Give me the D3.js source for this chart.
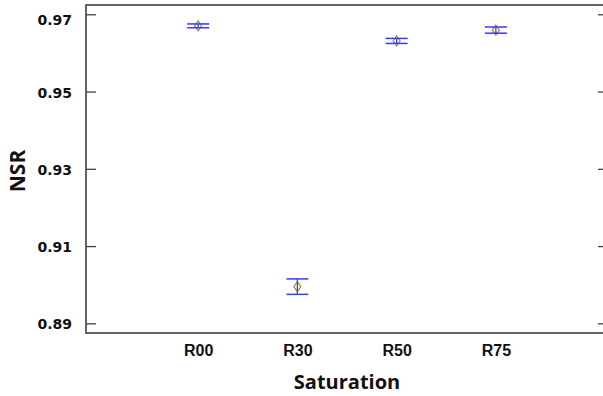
<!DOCTYPE html>
<html>
<head>
<meta charset="utf-8">
<script src="https://cdn.jsdelivr.net/npm/d3@7"></script>
<style>
  body { margin: 0; background: #fff; }
</style>
</head>
<body>
<div id="chart"></div>
<script>
// data
var categories = ["R00", "R30", "R50", "R75"];
var nsrMean = [0.9670, 0.8995, 0.9631, 0.9659];
var nsrErr = [0.0005, 0.0020, 0.00065, 0.0008];
var yTicks = [0.89, 0.91, 0.93, 0.95, 0.97];

var svgWidth = 603;
var svgHeight = 396;

// plot box (right edge runs past the window, like the original)
var margin = { top: 5, left: 86 };
var plotWidth = 522;
var plotHeight = 328;

var svg = d3.select("#chart")
  .append("svg")
  .attr("width", svgWidth)
  .attr("height", svgHeight);

var chartGroup = svg.append("g")
  .attr("transform", `translate(${margin.left}, ${margin.top})`);

var xScale = d3.scalePoint()
  .domain(categories)
  .range([0, plotWidth])
  .padding(1.13);

var yScale = d3.scaleLinear()
  .domain([0.8875, 0.9724])
  .range([plotHeight, 0]);

var axisColor = "#404040";

// frame
chartGroup.append("rect")
  .attr("width", plotWidth)
  .attr("height", plotHeight)
  .attr("fill", "none")
  .attr("stroke", axisColor)
  .attr("stroke-width", 1.6);

// left axis: inward ticks
var yAxis = d3.axisLeft(yScale)
  .tickValues(yTicks)
  .tickSize(-10)
  .tickPadding(14)
  .tickFormat(d3.format(".2f"));

var yAxisG = chartGroup.append("g").call(yAxis);
yAxisG.select(".domain").remove();
yAxisG.selectAll("line").attr("stroke", axisColor).attr("stroke-width", 1.3);
yAxisG.selectAll("text")
  .attr("fill", "#111")
  .style("font-family", "DejaVu Sans, sans-serif")
  .style("font-weight", "bold")
  .style("font-size", "14px")
  .attr("dy", d => d == 0.97 ? "0.7em" : "0.4em");

// right axis: inward ticks, no labels
var yAxisRight = d3.axisRight(yScale)
  .tickValues(yTicks)
  .tickSize(-10)
  .tickFormat("");

var yRightG = chartGroup.append("g")
  .attr("transform", `translate(${plotWidth},0)`)
  .call(yAxisRight);
yRightG.select(".domain").remove();
yRightG.selectAll("line").attr("stroke", axisColor).attr("stroke-width", 1.3);

// bottom axis: labels only
var xAxis = d3.axisBottom(xScale)
  .tickSize(0)
  .tickPadding(12);

var xAxisG = chartGroup.append("g")
  .attr("transform", `translate(0,${plotHeight})`)
  .call(xAxis);
xAxisG.select(".domain").remove();
xAxisG.selectAll("text")
  .attr("fill", "#111")
  .style("font-family", "Liberation Sans, Arial, sans-serif")
  .style("font-weight", "bold")
  .style("font-size", "16px");

// axis titles
chartGroup.append("text")
  .attr("x", plotWidth / 2)
  .attr("y", plotHeight + 56)
  .attr("text-anchor", "middle")
  .attr("fill", "#111")
  .style("font-family", "Open Sans, sans-serif")
  .style("font-weight", "bold")
  .style("font-size", "20px")
  .text("Saturation");

svg.append("text")
  .attr("transform", `translate(25, ${margin.top + plotHeight / 2 + 2}) rotate(-90)`)
  .attr("text-anchor", "middle")
  .attr("fill", "#111")
  .style("font-family", "Open Sans, sans-serif")
  .style("font-weight", "bold")
  .style("font-size", "21px")
  .text("NSR");

var points = categories.map(function(c, i) {
  return { cat: c, mean: nsrMean[i], err: nsrErr[i] };
});

var node = chartGroup.selectAll(".point")
  .data(points)
  .enter().append("g")
  .attr("class", "point");

// diamond markers
node.append("path")
  .attr("d", function(d) {
    var cx = xScale(d.cat), cy = yScale(d.mean);
    return `M${cx},${cy - 5}L${cx + 3.5},${cy}L${cx},${cy + 5}L${cx - 3.5},${cy}Z`;
  })
  .attr("fill", "none")
  .attr("stroke", "#9c9a30")
  .attr("stroke-width", 1.3);

// error bars
var capHalf = 11;
var barColor = "#3838ff";

node.append("line")
  .attr("x1", d => xScale(d.cat))
  .attr("x2", d => xScale(d.cat))
  .attr("y1", d => yScale(d.mean + d.err))
  .attr("y2", d => yScale(d.mean - d.err))
  .attr("stroke", barColor)
  .attr("stroke-width", 1.3);

node.append("line")
  .attr("x1", d => xScale(d.cat) - capHalf)
  .attr("x2", d => xScale(d.cat) + capHalf)
  .attr("y1", d => yScale(d.mean + d.err))
  .attr("y2", d => yScale(d.mean + d.err))
  .attr("stroke", barColor)
  .attr("stroke-width", 1.5);

node.append("line")
  .attr("x1", d => xScale(d.cat) - capHalf)
  .attr("x2", d => xScale(d.cat) + capHalf)
  .attr("y1", d => yScale(d.mean - d.err))
  .attr("y2", d => yScale(d.mean - d.err))
  .attr("stroke", barColor)
  .attr("stroke-width", 1.5);
</script>
</body>
</html>
